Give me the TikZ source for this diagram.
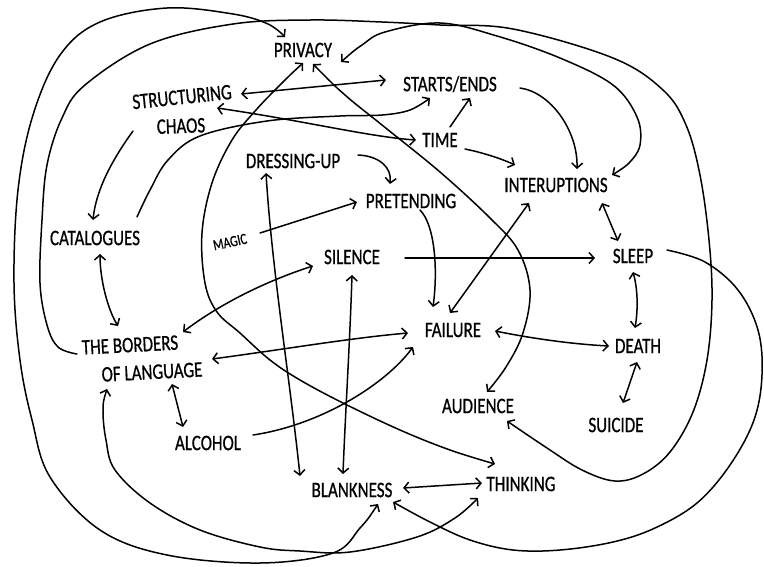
\documentclass[tikz,border=0pt]{standalone}
\usepackage{fontspec}
\setmainfont{Carlito}
\newfontfamily\hwfont{Carlito}[FakeBold=0.8]
\usetikzlibrary{arrows.meta,calc}
\newcommand\lblfont{\hwfont\fontsize{17}{19}\selectfont}
\newcommand\smlfont{\hwfont\fontsize{12}{14}\selectfont}
\newcommand\hw[1]{\scalebox{1}[1.3]{#1}}
\begin{document}
\begin{tikzpicture}[x=1pt,y=-1pt,
  lbl/.style={font=\lblfont, inner sep=0pt},
  con/.style={line width=1.5pt, line cap=round, line join=round,
    >={Straight Barb[length=5pt,width=11pt]}},
  crv/.style={smooth, tension=0.6}]
\fill[white] (0,0) rectangle (764,566);
\useasboundingbox (0,0) rectangle (764,566);

% ---- labels
\node[lbl] (privacy) at (303,50) {\hw{PRIVACY}};
\node[lbl,rotate=6] (structuring) at (182,97) {\hw{STRUCTURING}};
\node[lbl,rotate=2] (chaos) at (181,126) {\hw{CHAOS}};
\node[lbl] (startsends) at (450,84) {\hw{STARTS/ENDS}};
\node[lbl] (time) at (440,140) {\hw{TIME}};
\node[lbl] (interuptions) at (556,185) {\hw{INTERUPTIONS}};
\node[lbl] (sleep) at (633,256) {\hw{SLEEP}};
\node[lbl] (dressing) at (293,161) {\hw{DRESSING-UP}};
\node[lbl] (pretending) at (411,201) {\hw{PRETENDING}};
\node[lbl,font=\smlfont,rotate=12] (magic) at (230,242) {\hw{MAGIC}};
\node[lbl] (catalogues) at (95,238) {\hw{CATALOGUES}};
\node[lbl] (silence) at (352,257) {\hw{SILENCE}};
\node[lbl,rotate=3] (bordersa) at (130,345) {\hw{THE BORDERS}};
\node[lbl,rotate=3] (bordersb) at (152,372) {\hw{OF LANGUAGE}};
\node[lbl] (failure) at (453,330) {\hw{FAILURE}};
\node[lbl] (death) at (638,346) {\hw{DEATH}};
\node[lbl] (audience) at (478,406) {\hw{AUDIENCE}};
\node[lbl] (suicide) at (616,425) {\hw{SUICIDE}};
\node[lbl] (alcohol) at (208,443) {\hw{ALCOHOL}};
\node[lbl] (blankness) at (352,490) {\hw{BLANKNESS}};
\node[lbl] (thinking) at (521,484) {\hw{THINKING}};

% ---- end points of the long curves
\coordinate (o1) at ($(blankness)+(26,14)$);
\coordinate (o2) at ($(privacy)+(-18,-13)$);
\coordinate (b1) at ($(bordersa)+(-53,9)$);
\coordinate (b2) at ($(audience)+(29,15)$);
\coordinate (c1) at ($(privacy)+(38,12)$);
\coordinate (c2) at ($(interuptions)+(56,-10)$);
\coordinate (d1) at ($(privacy)+(0,13)$);
\coordinate (d2) at ($(thinking)+(-26,-20)$);
\coordinate (f1) at ($(privacy)+(10,14)$);
\coordinate (f2) at ($(audience)+(9,-14)$);
\coordinate (s1) at ($(sleep)+(34,-6)$);
\coordinate (s2) at ($(blankness)+(41,12)$);
\coordinate (t1) at ($(bordersb)+(-45,17)$);
\coordinate (t2) at ($(thinking)+(-43,14)$);
\coordinate (g1) at ($(catalogues)+(42,-21)$);
\coordinate (g2) at ($(startsends)+(-20,14)$);

% ---- long curves
\draw[con,<->] plot[crv] coordinates {(o1) (360,528) (333,553) (260,563) (167,555) (100,530) (50,477) (32,420) (20,360) (14,283) (18,190) (33,115) (60,55) (100,22) (167,8) (233,14) (268,24) (o2)};
\draw[con,->] plot[crv] coordinates {(b1) (58,347) (47,325) (40,283) (42,220) (47,165) (62,118) (85,85) (150,44) (233,24) (310,20) (382,22) (440,25) (513,29) (613,58) (663,90) (686,125) (700,175) (709,240) (712,300) (707,360) (693,412) (670,452) (643,474) (615,481) (582,470) (547,448) (b2)};
\draw[con,<->] plot[crv] coordinates {(c1) (362,45) (385,32) (440,23) (497,36) (560,58) (613,85) (637,117) (640,145) (629,163) (c2)};
\draw[con,<->] plot[crv] coordinates {(d1) (282,83) (256,110) (232,140) (212,183) (202,233) (205,283) (217,312) (240,333) (270,360) (300,380) (343,403) (400,430) (450,450) (d2)};
\draw[con,<->] plot[crv] coordinates {(f1) (345,95) (382,125) (440,172) (490,218) (518,250) (530,290) (523,333) (506,367) (f2)};
\draw[con,->] plot[crv] coordinates {(s1) (705,262) (738,290) (758,330) (762,375) (754,420) (730,465) (697,503) (655,528) (613,542) (560,550) (513,550) (470,540) (430,522) (s2)};
\draw[con,<->] plot[crv] coordinates {(t1) (103,410) (106,440) (115,470) (150,503) (200,530) (260,547) (300,551) (350,552) (417,537) (455,518) (t2)};
\draw[con,->] plot[crv] coordinates {(g1) (150,190) (168,160) (200,136) (267,121) (340,116) (382,115) (410,110) (g2)};

% ---- shorter connectors
\draw[con,<->] ($(structuring)+(59,-3)$) -- ($(startsends)+(-64,-4)$);
\draw[con,<->] ($(structuring)+(35,11)$) .. controls (300,120) and (370,137) .. ($(time)+(-24,0)$);
\draw[con,->] ($(chaos)+(-48,5)$) .. controls (112,160) and (96,190) .. ($(catalogues)+(-2,-18)$);
\draw[con,<->] ($(catalogues)+(5,16)$) .. controls (100,280) and (108,310) .. ($(bordersa)+(-12,-19)$);
\draw[con,->] ($(time)+(10,-13)$) -- ($(startsends)+(20,14)$);
\draw[con,->] ($(time)+(25,9)$) .. controls (480,152) and (500,158) .. ($(interuptions)+(-41,-20)$);
\draw[con,->] ($(startsends)+(70,4)$) .. controls (550,92) and (578,130) .. ($(interuptions)+(21,-16)$);
\draw[con,<->] ($(interuptions)+(46,18)$) -- ($(sleep)+(-15,-15)$);
\draw[con,->] ($(silence)+(53,1)$) -- ($(sleep)+(-38,2)$);
\draw[con,<->] ($(sleep)+(0,16)$) .. controls (638,290) and (638,310) .. ($(death)+(-3,-18)$);
\draw[con,<->] ($(death)+(-1,16)$) -- ($(suicide)+(7,-22)$);
\draw[con,<->] ($(failure)+(42,1)$) .. controls (530,338) and (570,344) .. ($(death)+(-29,0)$);
\draw[con,->] ($(pretending)+(9,9)$) .. controls (435,225) and (438,270) .. ($(failure)+(-20,-23)$);
\draw[con,->] ($(dressing)+(65,-6)$) .. controls (380,156) and (392,168) .. ($(pretending)+(-21,-17)$);
\draw[con,->] ($(magic)+(30,-9)$) -- ($(pretending)+(-54,1)$);
\draw[con,<->] ($(dressing)+(-27,12)$) .. controls (272,270) and (290,380) .. ($(blankness)+(-52,-14)$);
\draw[con,<->] ($(silence)+(0,18)$) .. controls (350,340) and (345,420) .. ($(blankness)+(-9,-16)$);
\draw[con,<->] ($(bordersa)+(53,-13)$) .. controls (225,300) and (275,278) .. ($(silence)+(-39,9)$);
\draw[con,<->] ($(bordersb)+(60,-13)$) .. controls (280,350) and (350,338) .. ($(failure)+(-45,3)$);
\draw[con,->] ($(alcohol)+(45,-8)$) .. controls (320,425) and (385,385) .. ($(failure)+(-40,17)$);
\draw[con,<->] ($(bordersb)+(20,12)$) -- ($(alcohol)+(-25,-16)$);
\draw[con,<->] ($(blankness)+(51,-2)$) -- ($(thinking)+(-39,-1)$);
\draw[con,<->] ($(failure)+(-3,-17)$) -- ($(interuptions)+(-27,18)$);
\end{tikzpicture}
\end{document}
